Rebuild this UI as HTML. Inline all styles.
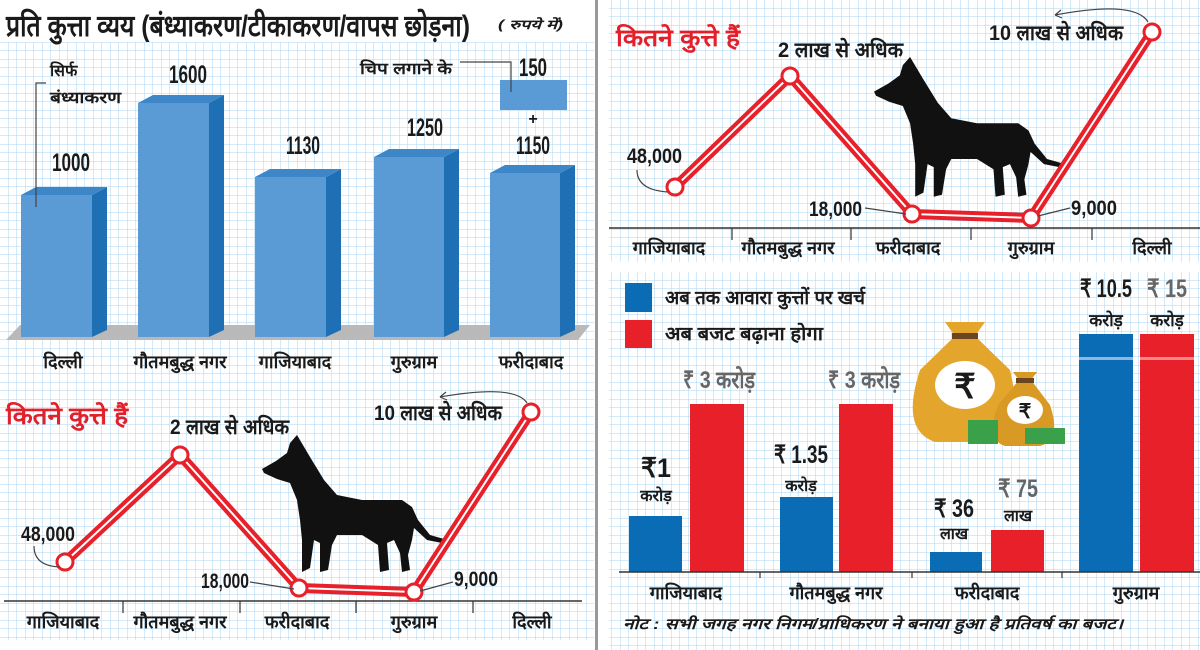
<!DOCTYPE html>
<html><head><meta charset="utf-8"><style>
html,body{margin:0;padding:0;background:#fff;}
svg{display:block;}
text{font-family:"Liberation Sans Narrow","Liberation Sans","Noto Sans CJK SC",sans-serif;font-weight:bold;fill:#1a1a1a;}
</style></head><body>
<svg width="1200" height="650" viewBox="0 0 1200 650" xmlns="http://www.w3.org/2000/svg">
<defs>
<pattern id="g" width="8.5" height="8.5" patternUnits="userSpaceOnUse">
<path d="M8.5 0V8.5M0 8.5H8.5" stroke="#a8d4f2" stroke-width="1" fill="none"/>
</pattern>
<g id="dog">
<path d="M35,0 L48,22 L62,45 L75,60 L100,65 L140,65 L150,72 L156,85 L168,100 L182,104 L180,108 L165,105 L152,93 L150,105 L146,120 L148,135 L140,137 L138,118 L132,105 L125,108 L127,135 L118,137 L116,110 L100,100 L75,100 L70,110 L66,135 L58,137 L58,108 L52,105 L48,133 L40,137 L40,105 L38,85 L35,65 L28,48 L15,44 L2,38 L0,34 L14,26 L25,18 L28,8 Z" fill="#111"/>
</g>
</defs>
<rect width="1200" height="650" fill="#fff"/>
<rect x="0" y="42" width="594" height="598" fill="url(#g)"/>
<rect x="609" y="0" width="591" height="262" fill="url(#g)"/>
<rect x="609" y="272" width="591" height="378" fill="url(#g)"/>
<rect x="595" y="0" width="3" height="650" fill="#999"/>

<!-- ===== TOP LEFT BAR CHART ===== -->
<text x="6" y="36" font-size="30" textLength="464" lengthAdjust="spacingAndGlyphs">प्रति कुत्ता व्यय (बंध्याकरण/टीकाकरण/वापस छोड़ना)</text>
<text x="498" y="29" font-size="13" font-style="italic" font-weight="normal" textLength="65" lengthAdjust="spacingAndGlyphs">( रुपये में)</text>
<polygon points="20,325 590,325 578,340 6,340" fill="#b9b9b9"/>
<g>
<rect x="21" y="195" width="71" height="142" fill="#5b9bd5"/><polygon points="92,195 107,187 107,330 92,337" fill="#1f6fb5"/><polygon points="21,195 36,187 107,187 92,195" fill="#3d87c9"/>
<rect x="138" y="103" width="71" height="234" fill="#5b9bd5"/><polygon points="209,103 224,95 224,330 209,337" fill="#1f6fb5"/><polygon points="138,103 153,95 224,95 209,103" fill="#3d87c9"/>
<rect x="255" y="177" width="71" height="160" fill="#5b9bd5"/><polygon points="326,177 341,169 341,330 326,337" fill="#1f6fb5"/><polygon points="255,177 270,169 341,169 326,177" fill="#3d87c9"/>
<rect x="374" y="157" width="70" height="180" fill="#5b9bd5"/><polygon points="444,157 459,149 459,330 444,337" fill="#1f6fb5"/><polygon points="374,157 389,149 459,149 444,157" fill="#3d87c9"/>
<rect x="490" y="173" width="70" height="164" fill="#5b9bd5"/><polygon points="560,173 575,165 575,330 560,337" fill="#1f6fb5"/><polygon points="490,173 505,165 575,165 560,173" fill="#3d87c9"/>
</g>
<rect x="500" y="80" width="67" height="30" fill="#5b9bd5"/>
<g font-size="25" text-anchor="middle">
<text x="71" y="171" textLength="38" lengthAdjust="spacingAndGlyphs">1000</text>
<text x="188" y="83" textLength="38" lengthAdjust="spacingAndGlyphs">1600</text>
<text x="303" y="154" textLength="34" lengthAdjust="spacingAndGlyphs">1130</text>
<text x="425" y="136" textLength="36" lengthAdjust="spacingAndGlyphs">1250</text>
<text x="533" y="76" textLength="28" lengthAdjust="spacingAndGlyphs">150</text>
<text x="533" y="124" font-size="16">+</text>
<text x="533" y="154" textLength="34" lengthAdjust="spacingAndGlyphs">1150</text>
</g>
<g font-size="18" text-anchor="middle">
<text x="63" y="368">दिल्ली</text><text x="180" y="368">गौतमबुद्ध नगर</text><text x="295" y="368">गाजियाबाद</text><text x="414" y="368">गुरुग्राम</text><text x="531" y="368">फरीदाबाद</text>
</g>
<text x="50" y="76" font-size="16" font-weight="normal">सिर्फ</text>
<text x="50" y="103" font-size="16" font-weight="normal" textLength="71" lengthAdjust="spacingAndGlyphs">बंध्याकरण</text>
<path d="M46,83 H36 V207" stroke="#444" stroke-width="1.2" fill="none"/>
<text x="360" y="74" font-size="16" font-weight="normal" textLength="92" lengthAdjust="spacingAndGlyphs">चिप लगाने के</text>
<path d="M460,62 H511 V92" stroke="#444" stroke-width="1.2" fill="none"/>

<!-- ===== BOTTOM LEFT LINE ===== -->
<text x="6" y="424" font-size="24" style="fill:#e3202a" textLength="122" lengthAdjust="spacingAndGlyphs">कितने कुत्ते हैं</text>
<line x1="4" y1="601" x2="582" y2="601" stroke="#333" stroke-width="1.5"/>
<g stroke="#333" stroke-width="1.2"><line x1="123" y1="601" x2="123" y2="613"/><line x1="240" y1="601" x2="240" y2="613"/><line x1="356" y1="601" x2="356" y2="613"/><line x1="473" y1="601" x2="473" y2="613"/></g>
<g font-size="18" text-anchor="middle">
<text x="63" y="628">गाजियाबाद</text><text x="180" y="628">गौतमबुद्ध नगर</text><text x="297" y="628">फरीदाबाद</text><text x="414" y="628">गुरुग्राम</text><text x="532" y="628">दिल्ली</text>
</g>
<use href="#dog" x="262" y="435"/>
<polyline points="65,562 180,455 299,588 414,592 531,412" fill="none" stroke="#e8202a" stroke-width="10" stroke-linejoin="round"/>
<polyline points="65,562 180,455 299,588 414,592 531,412" fill="none" stroke="#fff" stroke-width="2" stroke-linejoin="round"/>
<g fill="#fff" stroke="#e8202a" stroke-width="3"><circle cx="65" cy="562" r="8"/><circle cx="180" cy="455" r="8"/><circle cx="299" cy="588" r="8"/><circle cx="414" cy="592" r="8"/><circle cx="531" cy="412" r="8"/></g>
<g font-size="21">
<text x="21" y="541" textLength="54" lengthAdjust="spacingAndGlyphs">48,000</text>
<text x="170" y="434" textLength="119" lengthAdjust="spacingAndGlyphs">2 लाख से अधिक</text>
<text x="374" y="420" textLength="128" lengthAdjust="spacingAndGlyphs">10 लाख से अधिक</text>
<text x="201" y="588" textLength="48" lengthAdjust="spacingAndGlyphs">18,000</text>
<text x="454" y="586" textLength="44" lengthAdjust="spacingAndGlyphs">9,000</text>
</g>
<g stroke="#444" stroke-width="1.2" fill="none">
<path d="M34,546 Q34,566 60,567"/><path d="M527,403 Q515,384 440,397"/><path d="M440,397 l6,-5 M440,397 l7,3"/>
<path d="M250,582 L294,589"/><path d="M420,591 L453,582"/>
</g>

<!-- ===== TOP RIGHT LINE ===== -->
<text x="616" y="46" font-size="24" style="fill:#e3202a" textLength="124" lengthAdjust="spacingAndGlyphs">कितने कुत्ते हैं</text>
<line x1="609" y1="228" x2="1200" y2="228" stroke="#333" stroke-width="1.5"/>
<g stroke="#333" stroke-width="1.2"><line x1="732" y1="228" x2="732" y2="240"/><line x1="851" y1="228" x2="851" y2="240"/><line x1="971" y1="228" x2="971" y2="240"/><line x1="1092" y1="228" x2="1092" y2="240"/></g>
<g font-size="18" text-anchor="middle">
<text x="669" y="254">गाजियाबाद</text><text x="788" y="254">गौतमबुद्ध नगर</text><text x="908" y="254">फरीदाबाद</text><text x="1031" y="254">गुरुग्राम</text><text x="1152" y="254">दिल्ली</text>
</g>
<use href="#dog" transform="translate(874,57) scale(1.03,1.02)"/>
<polyline points="675,187 790,76 912,214 1031,218 1152,32" fill="none" stroke="#e8202a" stroke-width="10" stroke-linejoin="round"/>
<polyline points="675,187 790,76 912,214 1031,218 1152,32" fill="none" stroke="#fff" stroke-width="2" stroke-linejoin="round"/>
<g fill="#fff" stroke="#e8202a" stroke-width="3"><circle cx="675" cy="187" r="8"/><circle cx="790" cy="76" r="8"/><circle cx="912" cy="214" r="8"/><circle cx="1031" cy="218" r="8"/><circle cx="1152" cy="32" r="8"/></g>
<g font-size="21">
<text x="627" y="163" textLength="55" lengthAdjust="spacingAndGlyphs">48,000</text>
<text x="778" y="57" textLength="125" lengthAdjust="spacingAndGlyphs">2 लाख से अधिक</text>
<text x="989" y="40" textLength="134" lengthAdjust="spacingAndGlyphs">10 लाख से अधिक</text>
<text x="809" y="216" textLength="53" lengthAdjust="spacingAndGlyphs">18,000</text>
<text x="1071" y="215" textLength="46" lengthAdjust="spacingAndGlyphs">9,000</text>
</g>
<g stroke="#444" stroke-width="1.2" fill="none">
<path d="M637,170 Q637,190 668,192"/><path d="M1148,22 Q1135,0 1055,15"/><path d="M1055,15 l6,-5 M1055,15 l7,3"/>
<path d="M865,208 L906,214"/><path d="M1038,216 L1070,208"/>
</g>

<!-- ===== BOTTOM RIGHT BARS ===== -->
<rect x="625" y="283" width="27" height="29" fill="#0a6cb5"/>
<rect x="625" y="320" width="27" height="28" fill="#e8202a"/>
<text x="665" y="304" font-size="19" textLength="200" lengthAdjust="spacingAndGlyphs">अब तक आवारा कुत्तों पर खर्च</text>
<text x="665" y="340" font-size="19" textLength="158" lengthAdjust="spacingAndGlyphs">अब बजट बढ़ाना होगा</text>
<g>
<rect x="629" y="516" width="53" height="56" fill="#0a6cb5"/><rect x="690" y="404" width="54" height="168" fill="#e8202a"/>
<rect x="780" y="497" width="53" height="75" fill="#0a6cb5"/><rect x="839" y="404" width="54" height="168" fill="#e8202a"/>
<rect x="930" y="552" width="52" height="20" fill="#0a6cb5"/><rect x="991" y="530" width="53" height="42" fill="#e8202a"/>
<rect x="1079" y="334" width="54" height="238" fill="#0a6cb5"/><rect x="1140" y="334" width="54" height="238" fill="#e8202a"/>
<rect x="1079" y="357" width="54" height="3" fill="#8fb6dc"/><rect x="1140" y="357" width="54" height="3" fill="#f08a8a"/>
</g>
<g>
<path d="M945,322 L985,322 L975,336 L1010,370 Q1025,430 990,442 L935,442 Q900,430 920,370 L955,336 Z" fill="#e4a52c"/>
<rect x="952" y="333" width="26" height="6" fill="#6b4420"/>
<ellipse cx="965" cy="385" rx="30" ry="24" fill="#fff"/>
<text x="965" y="398" font-size="34" text-anchor="middle">₹</text>
<path d="M1013,372 L1037,372 L1031,380 L1050,405 Q1062,440 1040,446 L1005,446 Q985,440 998,405 L1019,380 Z" fill="#d99a25"/>
<rect x="1016" y="378" width="18" height="5" fill="#6b4420"/>
<ellipse cx="1025" cy="410" rx="18" ry="14" fill="#fff"/>
<text x="1025" y="418" font-size="20" text-anchor="middle">₹</text>
<rect x="968" y="420" width="30" height="24" fill="#3aa04a"/><rect x="1025" y="428" width="40" height="16" fill="#3aa04a"/>
</g>
<line x1="619" y1="572" x2="1200" y2="572" stroke="#333" stroke-width="1.5"/>
<g stroke="#333" stroke-width="1.2"><line x1="760" y1="572" x2="760" y2="578"/><line x1="912" y1="572" x2="912" y2="578"/><line x1="1062" y1="572" x2="1062" y2="578"/></g>
<g font-size="18" text-anchor="middle">
<text x="686" y="599">गाजियाबाद</text><text x="836" y="599">गौतमबुद्ध नगर</text><text x="987" y="599">फरीदाबाद</text><text x="1136" y="599">गुरुग्राम</text>
</g>
<g text-anchor="middle">
<text x="656" y="477" font-size="27" textLength="30" lengthAdjust="spacingAndGlyphs">₹1</text><text x="656" y="501" font-size="16" font-weight="normal">करोड़</text>
<text x="719" y="388" font-size="24" style="fill:#666" textLength="72" lengthAdjust="spacingAndGlyphs">₹ 3 करोड़</text>
<text x="801" y="463" font-size="25" textLength="54" lengthAdjust="spacingAndGlyphs">₹ 1.35</text><text x="801" y="491" font-size="16" font-weight="normal">करोड़</text>
<text x="864" y="388" font-size="24" style="fill:#666" textLength="72" lengthAdjust="spacingAndGlyphs">₹ 3 करोड़</text>
<text x="954" y="517" font-size="25" textLength="40" lengthAdjust="spacingAndGlyphs">₹ 36</text><text x="954" y="539" font-size="16" font-weight="normal">लाख</text>
<text x="1018" y="497" font-size="25" style="fill:#666" textLength="40" lengthAdjust="spacingAndGlyphs">₹ 75</text><text x="1018" y="521" font-size="16" font-weight="normal">लाख</text>
<text x="1106" y="297" font-size="25" textLength="52" lengthAdjust="spacingAndGlyphs">₹ 10.5</text><text x="1106" y="326" font-size="17" font-weight="normal">करोड़</text>
<text x="1167" y="297" font-size="25" style="fill:#666" textLength="40" lengthAdjust="spacingAndGlyphs">₹ 15</text><text x="1167" y="326" font-size="17" font-weight="normal">करोड़</text>
</g>
<text x="623" y="629" font-size="15" font-style="italic" font-weight="normal" textLength="500" lengthAdjust="spacingAndGlyphs">नोट : सभी जगह नगर निगम/प्राधिकरण ने बनाया हुआ है प्रतिवर्ष का बजट।</text>
</svg>
</body></html>
